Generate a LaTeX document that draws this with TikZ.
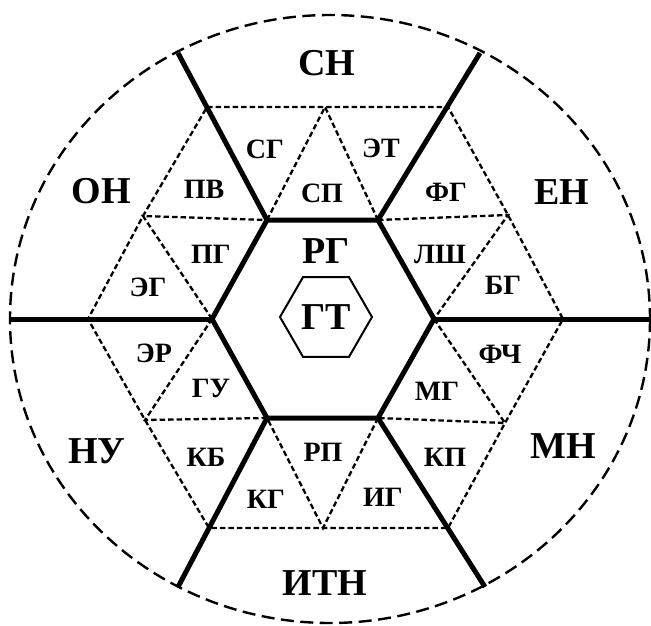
\documentclass[tikz,border=0pt]{standalone}
\usepackage{fontspec}
\setmainfont{Liberation Serif}
\usetikzlibrary{shapes.geometric}
\tikzset{
  rim/.style={line width=2.4pt, dash pattern=on 13pt off 6.5pt},
  spoke/.style={line width=5pt},
  tri/.style={line width=2.3pt, dash pattern=on 5.5pt off 3pt},
  big/.style={font=\fontsize{38}{40}\selectfont\bfseries, inner sep=0pt},
  sml/.style={font=\fontsize{28}{30}\selectfont\bfseries, inner sep=0pt},
}

\begin{document}
\begin{tikzpicture}[x=1pt,y=-1pt]
\useasboundingbox (0,0) rectangle (651,626);
% hexagon corners, outer ring points, spoke ends
\foreach \n/\x/\y in {r/434/319, tr/378/220, tl/267/220, l/212/319, bl/267/418, br/378/418,
  mt/325/107, mur/508/215, mlr/505/423, mb/323/528, mll/145/420, mul/143/216,
  otl/207/107, otr/448/107, or/563/319, obr/448/528, obl/209/528, ol/88/319,
  etl/178/53, etr/480/53, er/650/319, ebr/485/587, ebl/178/587, el/10/319, c/330/319}
  \coordinate (\n) at (\x,\y);

\draw[tri] (otl) -- (mt) -- (otr) -- (mur) -- (or) -- (mlr) -- (obr) -- (mb)
  -- (obl) -- (mll) -- (ol) -- (mul) -- cycle;
\foreach \a/\b/\cc in {mt/tl/tr, mur/tr/r, mlr/r/br, mb/br/bl, mll/bl/l, mul/l/tl}
  \draw[tri] (\b) -- (\a) -- (\cc);

\draw[spoke] (r) -- (tr) -- (tl) -- (l) -- (bl) -- (br) -- cycle;
\foreach \a/\b in {tl/etl, tr/etr, r/er, br/ebr, bl/ebl, l/el}
  \draw[spoke] (\a) -- (\b);
\draw[rim] (c) ellipse [x radius=320, y radius=304];

% labels
\foreach \n/\x/\y/\txt in {sn/327/63/СН, on/101/191/ОН, en/562/192/ЕН, nu/97/451/НУ,
  mn/563/446/МН, itn/325/583/ИТН, rg/326/251/РГ}
  \node[big] (\n) at (\x,\y) {\txt};
\node[big, regular polygon, regular polygon sides=6, draw, line width=2pt,
  minimum size=92pt] (gt) at (326,317) {ГТ};
\foreach \n/\x/\y/\txt in {sg/265/149/СГ, sp/322/193/СП, et/381/148/ЭТ, pv/204/189/ПВ,
  pg/211/254/ПГ, eg/148/287/ЭГ, fg/446/192/ФГ, lsh/440/254/ЛШ, bg/503/285/БГ,
  er1/154/353/ЭР, gu/211/388/ГУ, kb/206/457/КБ, kg/266/499/КГ, rp/323/452/РП,
  ig/383/497/ИГ, fch/500/354/ФЧ, mg/437/391/МГ, kp/445/457/КП}
  \node[sml] (\n) at (\x,\y) {\txt};
\end{tikzpicture}
\end{document}
